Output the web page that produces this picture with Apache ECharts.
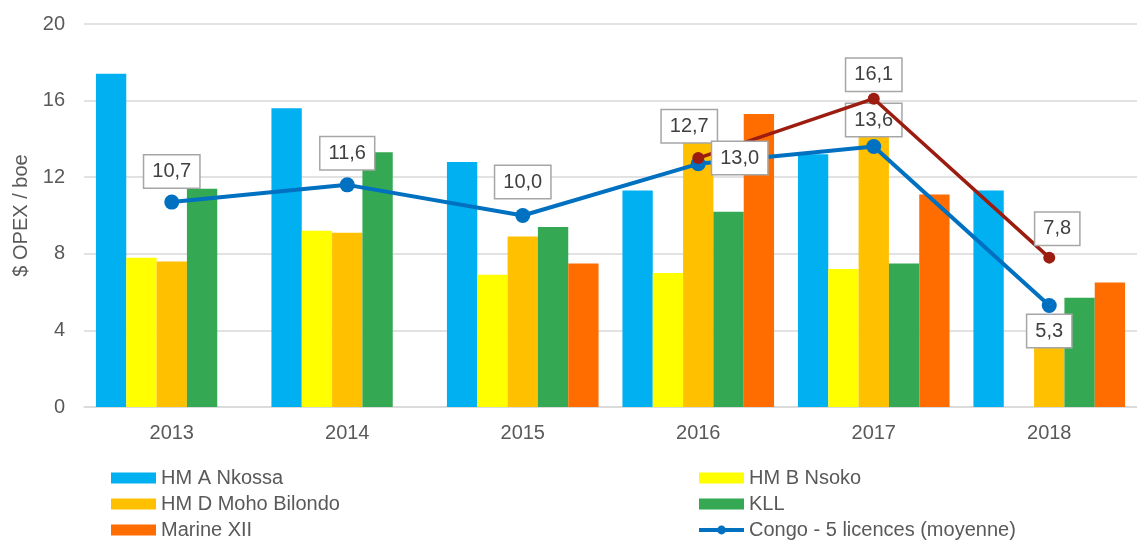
<!DOCTYPE html>
<html>
<head>
<meta charset="utf-8">
<script src="https://cdn.jsdelivr.net/npm/echarts@6/dist/echarts.min.js"></script>
<style>
  html, body { margin: 0; padding: 0; background: #ffffff; }
  #chart { width: 1137px; height: 540px; }
</style>
</head>
<body>
<div id="chart"></div>
<script>
// Operating cost per barrel of oil equivalent, by licence and year
const years = ['2013', '2014', '2015', '2016', '2017', '2018'];
const hmANkossa = [17.4, 15.6, 12.8, 11.3, 13.2, 11.3];
const hmBNsoko = [7.8, 9.2, 6.9, 7.0, 7.2, null];
const hmDMohoBilondo = [7.6, 9.1, 8.9, 14.0, 14.5, 3.6];
const kll = [11.4, 13.3, 9.4, 10.2, 7.5, 5.7];
const marineXII = [null, null, 7.5, 15.3, 11.1, 6.5];
const congoAverage = [10.7, 11.6, 10.0, 12.7, 13.6, 5.3];
const congoSecondary = [null, null, null, 13.0, 16.1, 7.8];

// Value axis range
const yMin = 0;
const yMax = 20;
const yStep = 4;

const fmt = v => v.toFixed(1).replace('.', ',');

const labelBox = {
  show: true,
  fontFamily: 'Liberation Sans, Arial, sans-serif',
  fontSize: 20,
  color: '#404040',
  backgroundColor: '#ffffff',
  borderColor: '#a6a6a6',
  borderWidth: 1.5,
  padding: [6, 8],
  formatter: p => fmt(p.value)
};

// label placement around each point of the two lines
const bluePlacement = [
  { position: 'top', distance: 7 },
  { position: 'top', distance: 8 },
  { position: 'top', distance: 10 },
  { position: 'top', distance: 14, offset: [-9, 0] },
  { position: 'top', distance: 3 },
  { position: 'bottom', distance: 2 }
];
const redPlacement = [
  null, null, null,
  { position: 'right', distance: 8 },
  { position: 'top', distance: 2 },
  { position: 'top', distance: 7, offset: [8, 0] }
];

function lineData(values, placement) {
  return values.map((v, i) => {
    if (v == null) return null;
    const p = placement[i] || {};
    return { value: v, label: Object.assign({}, p) };
  });
}

const barColors = ['#00b0f0', '#ffff00', '#ffc000', '#34a853', '#ff6d00'];
const barNames = ['HM A Nkossa', 'HM B Nsoko', 'HM D Moho Bilondo', 'KLL', 'Marine XII'];
const barValues = [hmANkossa, hmBNsoko, hmDMohoBilondo, kll, marineXII];

const series = barNames.map((name, i) => ({
  name: name,
  type: 'bar',
  data: barValues[i],
  itemStyle: { color: barColors[i] },
  barGap: '0%',
  barCategoryGap: '13.6%',
  z: 2
}));

series.push({
  name: 'Congo - 5 licences (moyenne)',
  type: 'line',
  data: lineData(congoAverage, bluePlacement),
  symbol: 'circle',
  symbolSize: 15,
  lineStyle: { color: '#0070c0', width: 4 },
  itemStyle: { color: '#0070c0' },
  label: labelBox,
  z: 5
});

series.push({
  name: 'Congo',
  type: 'line',
  data: lineData(congoSecondary, redPlacement),
  symbol: 'circle',
  symbolSize: 12,
  lineStyle: { color: '#9c1c10', width: 3.5 },
  itemStyle: { color: '#9c1c10' },
  label: labelBox,
  z: 6
});

const legendText = {
  fontFamily: 'Liberation Sans, Arial, sans-serif',
  fontSize: 20,
  color: '#595959'
};

function legendColumn(left, items) {
  return {
    orient: 'vertical',
    left: left,
    top: 468,
    height: 90,
    padding: 0,
    itemWidth: 45,
    itemHeight: 11,
    itemGap: 6,
    textStyle: legendText,
    data: items
  };
}

const option = {
  animation: false,
  backgroundColor: '#ffffff',
  grid: { left: 84, right: -6, top: 24, bottom: 133 },
  legend: [
    legendColumn(111, [
      { name: 'HM A Nkossa', icon: 'rect' },
      { name: 'HM D Moho Bilondo', icon: 'rect' },
      { name: 'Marine XII', icon: 'rect' }
    ]),
    legendColumn(697, [
      { name: 'HM B Nsoko', icon: 'rect' },
      { name: 'KLL', icon: 'rect' },
      { name: 'Congo - 5 licences (moyenne)', lineStyle: { width: 4 } }
    ])
  ],
  xAxis: {
    type: 'category',
    data: years,
    axisLine: { lineStyle: { color: '#d9d9d9', width: 1.5 } },
    axisTick: { show: false },
    axisLabel: {
      fontFamily: 'Liberation Sans, Arial, sans-serif',
      fontSize: 20,
      color: '#595959',
      margin: 16
    }
  },
  yAxis: {
    type: 'value',
    min: yMin,
    max: yMax,
    interval: yStep,
    name: '$ OPEX / boe',
    nameLocation: 'middle',
    nameGap: 52,
    nameTextStyle: {
      fontFamily: 'Liberation Sans, Arial, sans-serif',
      fontSize: 20,
      color: '#595959'
    },
    axisLine: { show: false },
    axisTick: { show: false },
    splitLine: { lineStyle: { color: '#d9d9d9', width: 1.5 } },
    axisLabel: {
      fontFamily: 'Liberation Sans, Arial, sans-serif',
      fontSize: 20,
      color: '#595959',
      margin: 19
    }
  },
  series: series
};

const chart = echarts.init(document.getElementById('chart'), null, { renderer: 'canvas' });
chart.setOption(option);
</script>
</body>
</html>
